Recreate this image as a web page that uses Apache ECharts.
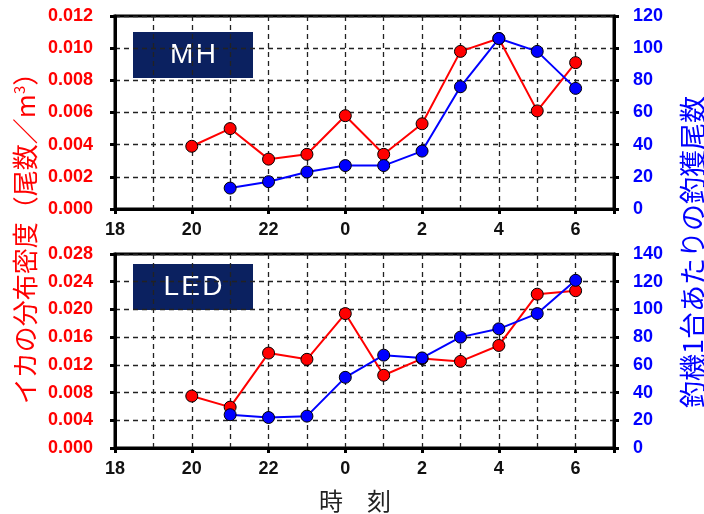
<!DOCTYPE html>
<html>
<head>
<meta charset="utf-8">
<script src="https://cdn.jsdelivr.net/npm/echarts@6/dist/echarts.min.js"></script>
<style>
  html, body { margin: 0; padding: 0; background: #fff; }
  #chart { width: 704px; height: 514px; }
</style>
</head>
<body>
<div id="chart"></div>
<script>
// hours after 18:00, 24 = midnight
const hours = [20, 21, 22, 23, 24, 25, 26, 27, 28, 29, 30];
const mhDensity = [0.0039, 0.0050, 0.0031, 0.0034, 0.0058, 0.0034, 0.0053, 0.0098, 0.0106, 0.0061, 0.0091];
const mhCatch = [null, 13, 17, 23, 27, 27, 36, 76, 106, 98, 75];
const ledDensity = [0.0075, 0.0059, 0.0137, 0.0128, 0.0194, 0.0105, 0.0129, 0.0125, 0.0148, 0.0222, 0.0227];
const ledCatch = [null, 24, 22, 23, 51, 67, 65, 80, 86, 97, 121];
const panelNames = ["MH", "LED"];
const densityMax = [0.012, 0.028];
const densityStep = [0.002, 0.004];
const catchMax = [120, 140];

const RED = "#ff0000";
const BLUE = "#0000ff";
const NUM_FONT = "'Liberation Sans', Arial, sans-serif";
const JP_FONT = "'Noto Sans CJK JP', sans-serif";

const pair = (vals) => hours.map((h, i) => [h, vals[i]]);

const grids = [
  {left: 115, right: 90, top: 16, height: 193},
  {left: 115, right: 90, top: 254, height: 194},
];

const xAxes = [];
const yAxes = [];
grids.forEach((g, i) => {
  // dashed hourly grid lines
  xAxes.push({
    type: "value", gridIndex: i, position: "bottom", min: 18, max: 31, interval: 1,
    axisLine: {show: false}, axisTick: {show: false}, axisLabel: {show: false},
    splitLine: {show: true, lineStyle: {color: "#222", type: [5, 4], width: 1.3}},
  });
  // labelled axis, every 2 hours
  xAxes.push({
    type: "value", gridIndex: i, position: "bottom", min: 18, max: 31, interval: 2,
    axisLine: {show: true, lineStyle: {color: "#000", width: 3}},
    axisTick: {show: true, length: 5, lineStyle: {color: "#000", width: 3}},
    splitLine: {show: false},
    axisLabel: {
      color: "#111", fontSize: 18, fontWeight: "bold", fontFamily: NUM_FONT, margin: 12,
      formatter: (v) => (v % 2 === 0 && v < 31 ? String(v % 24) : ""),
    },
  });
  yAxes.push({
    type: "value", gridIndex: i, position: "left", min: 0, max: densityMax[i], interval: densityStep[i],
    axisLine: {show: true, lineStyle: {color: "#000", width: 3}},
    axisTick: {show: true, length: 5, lineStyle: {color: "#000", width: 3}},
    splitLine: {show: true, lineStyle: {color: "#222", type: [5, 4], width: 1.3}},
    axisLabel: {
      color: RED, fontSize: 18, fontWeight: "bold", fontFamily: NUM_FONT, margin: 22,
      formatter: (v) => v.toFixed(3),
    },
  });
  yAxes.push({
    type: "value", gridIndex: i, position: "right", min: 0, max: catchMax[i], interval: 20,
    axisLine: {show: true, lineStyle: {color: "#000", width: 3}},
    axisTick: {show: true, length: 5, lineStyle: {color: "#000", width: 3}},
    splitLine: {show: false},
    axisLabel: {color: BLUE, fontSize: 18, fontWeight: "bold", fontFamily: NUM_FONT, margin: 19},
  });
});

const makeSeries = (name, data, color, xi, yi) => ({
  name, type: "line", xAxisIndex: xi, yAxisIndex: yi, data: pair(data),
  symbol: "circle", symbolSize: 12, connectNulls: false,
  lineStyle: {color, width: 2},
  itemStyle: {color, borderColor: "#000", borderWidth: 1},
  emphasis: {disabled: true}, animation: false,
});

const series = [
  makeSeries("MH density", mhDensity, RED, 1, 0),
  makeSeries("MH catch", mhCatch, BLUE, 1, 1),
  makeSeries("LED density", ledDensity, RED, 3, 2),
  makeSeries("LED catch", ledCatch, BLUE, 3, 3),
];

const labelBox = (name, cy) => ({
  type: "group", left: 133, top: cy - 23, z: 100,
  children: [
    {type: "rect", shape: {x: 0, y: 0, width: 120, height: 46}, style: {fill: "#0b2160"}},
    {type: "text", x: 60, y: 23, style: {
      text: name.split("").join("\u200a"), fill: "#fff", font: "28px " + NUM_FONT,
      align: "center", verticalAlign: "middle",
    }},
  ],
});

const option = {
  backgroundColor: "#fff",
  grid: grids.map((g) => ({...g, show: true, borderWidth: 3, borderColor: "#000"})),
  xAxis: xAxes,
  yAxis: yAxes,
  series,
  graphic: [
    labelBox(panelNames[0], 55),
    labelBox(panelNames[1], 287),
    {
      type: "text", x: 25, y: 232, rotation: Math.PI / 2,
      style: {
        text: "イカの分布密度（尾数／m{sup|3}）",
        fill: RED, font: "26px " + JP_FONT, align: "center", verticalAlign: "middle",
        rich: {sup: {fontSize: 15, fill: RED, fontFamily: JP_FONT, verticalAlign: "top", padding: [0, 0, 12, 0]}},
      },
    },
    {
      type: "text", x: 693, y: 252, rotation: Math.PI / 2,
      style: {
        text: "釣機1台あたりの釣獲尾数",
        fill: BLUE, font: "27px " + JP_FONT, align: "center", verticalAlign: "middle",
      },
    },
    {
      type: "text", x: 355, y: 501,
      style: {
        text: "時　刻", fill: "#222", font: "24px " + JP_FONT, align: "center", verticalAlign: "middle",
      },
    },
  ],
};

const chart = echarts.init(document.getElementById("chart"));
chart.setOption(option);
</script>
</body>
</html>
